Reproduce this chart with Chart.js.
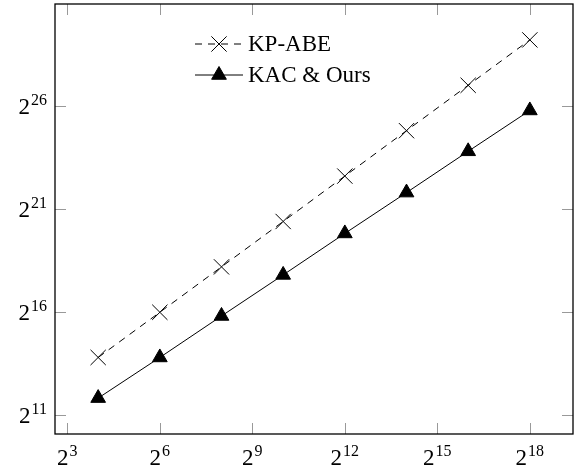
<!DOCTYPE html>
<html>
<head>
<meta charset="utf-8">
<script src="https://cdn.jsdelivr.net/npm/chart.js@4/dist/chart.umd.min.js"></script>
<style>
html, body { margin: 0; padding: 0; background: #fff; }
</style>
</head>
<body>
<canvas id="costChart" width="576" height="473"></canvas>
<script>
// values (log2 axes)
var xValues = [16, 64, 256, 1024, 4096, 16384, 65536, 262144];
var kpAbe   = [14360, 65536, 301100, 1383600, 6357300, 29211000, 134200000, 616700000];
var kacOurs = [3666, 14360, 57850, 229800, 925600, 3651300, 14605000, 57617000];
var xTickExp = [3, 6, 9, 12, 15, 18];
var yTickExp = [11, 16, 21, 26];
var seriesNames = ['KP-ABE', 'KAC & Ours'];

var serif = '"Liberation Serif", "DejaVu Serif", serif';

function toPoints(xs, ys){
  return xs.map(function(x, i){ return {x: x, y: ys[i]}; });
}

// 2^n label with a real superscript
function drawPow(ctx, exp, x, y, align){
  ctx.font = '23px ' + serif;
  var wb = ctx.measureText('2').width;
  ctx.font = '16px ' + serif;
  var ws = ctx.measureText(String(exp)).width;
  var start = align === 'right' ? x - wb - ws - 1 : x - (wb + ws + 1) / 2;
  ctx.textBaseline = 'alphabetic';
  ctx.textAlign = 'left';
  ctx.font = '23px ' + serif;
  ctx.fillText('2', start, y);
  ctx.font = '16px ' + serif;
  ctx.fillText(String(exp), start + wb + 1, y - 9);
}

var axisDecor = {
  id: 'axisDecor',
  beforeDatasetsDraw: function(chart){
    var ctx = chart.ctx, a = chart.chartArea, xs = chart.scales.x, ys = chart.scales.y;
    ctx.save();
    ctx.strokeStyle = '#999';
    ctx.lineWidth = 1;
    ctx.beginPath();
    xTickExp.forEach(function(e){
      var px = Math.round(xs.getPixelForValue(Math.pow(2, e))) + 0.5;
      ctx.moveTo(px, a.bottom); ctx.lineTo(px, a.bottom - 11);
      ctx.moveTo(px, a.top); ctx.lineTo(px, a.top + 11);
    });
    yTickExp.forEach(function(e){
      var py = Math.round(ys.getPixelForValue(Math.pow(2, e))) + 0.5;
      ctx.moveTo(a.left, py); ctx.lineTo(a.left + 11, py);
      ctx.moveTo(a.right, py); ctx.lineTo(a.right - 11, py);
    });
    ctx.stroke();
    ctx.restore();
  },
  afterDraw: function(chart){
    var ctx = chart.ctx, a = chart.chartArea, xs = chart.scales.x, ys = chart.scales.y;
    ctx.save();
    ctx.strokeStyle = '#000';
    ctx.lineWidth = 1.3;
    ctx.strokeRect(a.left, a.top, a.right - a.left, a.bottom - a.top);

    ctx.fillStyle = '#000';
    xTickExp.forEach(function(e){
      drawPow(ctx, e, xs.getPixelForValue(Math.pow(2, e)), a.bottom + 31);
    });
    yTickExp.forEach(function(e){
      drawPow(ctx, e, 47, ys.getPixelForValue(Math.pow(2, e)) + 8, 'right');
    });

    // legend
    var rows = [44, 75];
    chart.data.datasets.forEach(function(ds, i){
      var y = rows[i];
      ctx.save();
      ctx.strokeStyle = '#000';
      ctx.fillStyle = '#000';
      ctx.lineWidth = ds.borderWidth;
      ctx.setLineDash(ds.borderDash || []);
      ctx.beginPath();
      ctx.moveTo(195, y); ctx.lineTo(243, y);
      ctx.stroke();
      ctx.setLineDash([]);
      Chart.helpers.drawPoint(ctx, {pointStyle: ds.pointStyle, rotation: 0, radius: ds.pointRadius, borderWidth: 1}, 219, y);
      ctx.font = '23px ' + serif;
      ctx.textBaseline = 'middle';
      ctx.textAlign = 'left';
      ctx.fillText(ds.label, 248, y + 1);
      ctx.restore();
    });
    ctx.restore();
  }
};

new Chart(document.getElementById('costChart').getContext('2d'), {
  type: 'line',
  data: {
    datasets: [
      {
        label: seriesNames[0],
        data: toPoints(xValues, kpAbe),
        borderColor: '#000',
        backgroundColor: '#000',
        borderWidth: 1,
        borderDash: [7, 6],
        pointStyle: 'crossRot',
        pointRadius: 10.8,
        pointBorderWidth: 1,
        pointBorderColor: '#000',
        tension: 0
      },
      {
        label: seriesNames[1],
        data: toPoints(xValues, kacOurs),
        borderColor: '#000',
        backgroundColor: '#000',
        borderWidth: 1,
        pointStyle: 'triangle',
        pointRadius: 8.5,
        pointBorderWidth: 1,
        pointBackgroundColor: '#000',
        pointBorderColor: '#000',
        tension: 0
      }
    ]
  },
  options: {
    responsive: false,
    animation: false,
    devicePixelRatio: 1,
    layout: { autoPadding: false, padding: { left: 55, right: 3, top: 4, bottom: 39 } },
    plugins: { legend: { display: false }, tooltip: { enabled: false } },
    scales: {
      x: { type: 'logarithmic', display: false, min: Math.pow(2, 2.6), max: Math.pow(2, 19.4) },
      y: { type: 'logarithmic', display: false, min: Math.pow(2, 10.1), max: Math.pow(2, 30.94) }
    }
  },
  plugins: [axisDecor]
});
</script>
</body>
</html>
